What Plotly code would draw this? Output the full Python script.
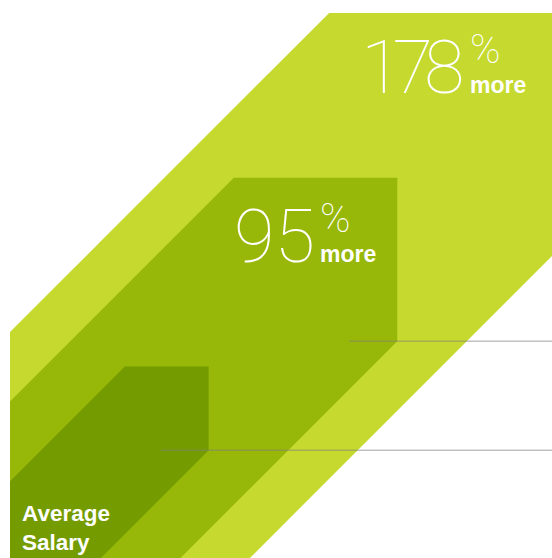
import plotly.graph_objects as go

# ---- data ----
categories = ["Average Salary", "95% more", "178% more"]
pct_more = [0, 95, 178]                      # % more than the average salary
relative_salary = [1 + p / 100 for p in pct_more]   # 1.00, 1.95, 2.78
fill_colors = ["#749C00", "#97B709", "#C5D92E"]

# ---- layout constants (pixels) ----
W, H = 552, 558
U = 83.8            # pixels per salary unit (side of the "Average" square)
X0, Y0 = 10, 565    # pixel position of the common bottom-left corner
EXTRUDE = 1.37      # 45-degree extrusion length relative to side


def px_x(px):
    return px / W


def px_y(py):
    return 1 - py / H


fig = go.Figure()

# draw largest first so smaller ones sit on top
order = sorted(range(len(relative_salary)), key=lambda i: -relative_salary[i])
for i in order:
    s = relative_salary[i]
    t = EXTRUDE * s
    xs = [0, s, s + t, s + t, t, 0, 0]
    ys = [0, 0, t, s + t, s + t, s, 0]
    fig.add_trace(go.Scatter(
        x=xs, y=ys, mode="lines", fill="toself",
        fillcolor=fill_colors[i], line=dict(width=0, color=fill_colors[i]),
        hoverinfo="skip", showlegend=False, name=categories[i]))

# guide lines at the lower-right corner of the two smaller blocks
xmax = (W - X0) / U
for i in range(2):
    s = relative_salary[i]
    t = EXTRUDE * s
    fig.add_trace(go.Scatter(
        x=[s + t - 48 / U, xmax + 1], y=[t, t], mode="lines",
        line=dict(width=1, color="rgba(128,128,128,0.72)"),
        hoverinfo="skip", showlegend=False))

fig.update_xaxes(range=[-X0 / U, (W - X0) / U], visible=False, fixedrange=True)
fig.update_yaxes(range=[(Y0 - H) / U, Y0 / U], visible=False, fixedrange=True)

THIN = "Roboto"
BOLD = "Liberation Sans"


def add_text(text, left, baseline, size, family, weight, descent):
    fig.add_annotation(
        text=text, xref="paper", yref="paper",
        x=px_x(left), y=px_y(baseline + descent * size),
        xanchor="left", yanchor="bottom", showarrow=False,
        borderpad=0, borderwidth=0, align="left",
        font=dict(family=family, size=size, color="white", weight=weight))


def big_number(value, left, baseline, spacing):
    add_text(f'<span style="letter-spacing:{spacing}px">{value}</span>',
             left, baseline, 74, THIN, 100, 0.244)


def pct_more_label(left, baseline):
    # "%" on top, bold "more" underneath, in one text block
    txt = ('<span style="font-family:Roboto;font-weight:100;font-size:41px">%</span>'
           '<br><b>more</b>')
    add_text(txt, left, baseline, 23, BOLD, 400, 0.212)


# 178% more
big_number(pct_more[2], 361, 93, -9)
pct_more_label(470, 93)
# 95% more
big_number(pct_more[1], 234, 262, 0)
pct_more_label(320, 262)
# Average Salary
add_text(categories[0].replace(" ", "<br>"), 22, 550, 22.5, BOLD, 700, 0.212)

fig.update_layout(
    width=W, height=H, margin=dict(l=0, r=0, t=0, b=0),
    paper_bgcolor="white", plot_bgcolor="white",
)

fig.write_html(
    "out.html",
    config={"displayModeBar": False, "staticPlot": True},
    post_script="document.body.style.margin='0';document.body.style.overflow='hidden';",
)
